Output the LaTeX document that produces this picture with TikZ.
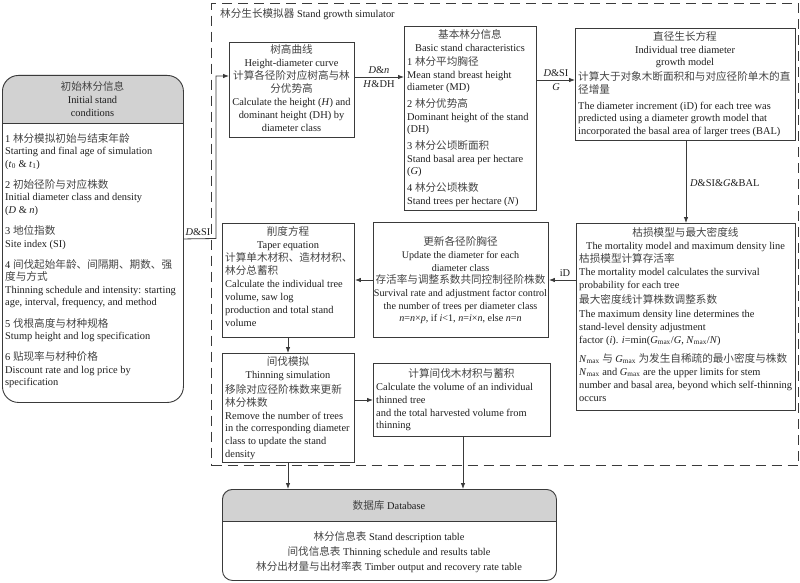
\documentclass[tikz,border=0pt]{standalone}
\usepackage{fontspec}
\setmainfont{Liberation Serif}
\newfontfamily\cjk[Scale=1.02]{Noto Sans CJK SC}
\usetikzlibrary{arrows.meta}
\definecolor{linec}{HTML}{3A3A3A}
\definecolor{txtc}{HTML}{1E1E1E}
\definecolor{cjkc}{HTML}{444444}
\definecolor{headc}{HTML}{D2D2D2}
\newcommand\zh[1]{{\cjk\color{cjkc}#1}}
\newcommand\fz[1]{\fontsize{10.4}{#1}\selectfont\lineskiplimit=-20pt\lineskip=0pt}
\tikzset{
  box/.style={draw=linec, line width=0.9pt, inner sep=0pt, anchor=north west},
  txt/.style={inner sep=0pt, text=txtc, font=\fz{12.6}},
  ctxt/.style={txt, align=center, anchor=north},
  ltxt/.style={txt, align=left, anchor=north west},
  arr/.style={draw=linec, line width=0.8pt, -{Latex[length=6pt,width=4.5pt]}},
  lab/.style={inner sep=1pt, text=txtc, font=\fz{12.6}},
  simframe/.style={draw=linec, line width=1.1pt, dash pattern=on 10pt off 6pt, inner sep=0pt, anchor=north west}
}
\begin{document}
\begin{tikzpicture}[x=1pt,y=-1pt]
\useasboundingbox (0,0) rectangle (800,583);

% simulator frame
\node[simframe, minimum width=587, minimum height=462] (sim) at (211,3) {};
\node[txt, anchor=west] (simt) at (220,14) {\zh{林分生长模拟器} Stand growth simulator};

% initial stand conditions
\begin{scope}
  \clip (2,75) rectangle (183,123);
  \fill[headc, rounded corners=16] (2,75) rectangle (183,402);
\end{scope}
\node[box, rounded corners=16, minimum width=181, minimum height=327] (init) at (2,75) {};
\draw[draw=linec, line width=0.9pt] (2,123) -- (183,123);
\node[ctxt, font=\fz{13}] (inith) at (92.5,81.5) {\zh{初始林分信息}\\Initial stand\\conditions};
\node[ltxt, font=\fz{12.2}] (initb) at (5,133.5) {1 \zh{林分模拟初始与结束年龄}\\
Starting and final age of simulation\\
(\textit{t}\textsubscript{0} \& \textit{t}\textsubscript{1})\\[9.5pt]
2 \zh{初始径阶与对应株数}\\
Initial diameter class and density\\
(\textit{D} \& \textit{n})\\[9.5pt]
3 \zh{地位指数}\\
Site index (SI)\\[9.5pt]
4 \zh{间伐起始年龄、间隔期、期数、强}\\
\zh{度与方式}\\
Thinning schedule and intensity: starting\\
age, interval, frequency, and method\\[9.5pt]
5 \zh{伐根高度与材种规格}\\
Stump height and log specification\\[9.5pt]
6 \zh{贴现率与材种价格}\\
Discount rate and log price by\\
specification};

% height-diameter curve
\node[box, minimum width=125, minimum height=95] (hd) at (229,42) {};
\node[ctxt, font=\fz{13}] (hdt) at (291.5,44.5) {\zh{树高曲线}\\Height-diameter curve\\\zh{计算各径阶对应树高与林}\\\zh{分优势高}\\Calculate the height (\textit{H}) and\\dominant height (DH) by\\diameter class};

% basic stand characteristics
\node[box, minimum width=132, minimum height=184] (basic) at (404,26) {};
\node[ctxt] (basich) at (470,29.5) {\zh{基本林分信息}\\Basic stand characteristics};
\node[ltxt, font=\fz{12.5}] (basicb) at (407,56.5) {1 \zh{林分平均胸径}\\
Mean stand breast height\\
diameter (MD)\\[4.5pt]
2 \zh{林分优势高}\\
Dominant height of the stand\\
(DH)\\[4.5pt]
3 \zh{林分公顷断面积}\\
Stand basal area per hectare\\
(\textit{G})\\[4.5pt]
4 \zh{林分公顷株数}\\
Stand trees per hectare (\textit{N})};

% diameter growth model
\node[box, minimum width=220, minimum height=112] (diam) at (575,28) {};
\node[ctxt] (diamh) at (685,31.5) {\zh{直径生长方程}\\Individual tree diameter\\growth model};
\node[ltxt] (diamb) at (578,71.5) {\zh{计算大于对象木断面积和与对应径阶单木的直}\\
\zh{径增量}\\[3.5pt]
The diameter increment (iD) for each tree was\\
predicted using a diameter growth model that\\
incorporated the basal area of larger trees (BAL)};

% mortality model
\node[box, minimum width=219, minimum height=187] (mort) at (576,223) {};
\node[ctxt] (morth) at (685.5,227.5) {\zh{枯损模型与最大密度线}\\The mortality model and maximum density line};
\node[ltxt, font=\fz{13.1}] (mortb) at (579,253.5) {\zh{枯损模型计算存活率}\\
The mortality model calculates the survival\\
probability for each tree\\[2pt]
\zh{最大密度线计算株数调整系数}\\
The maximum density line determines the\\
stand-level density adjustment\\
factor (\textit{i}). \textit{i}=min(\textit{G}\textsubscript{max}/\textit{G}, \textit{N}\textsubscript{max}/\textit{N})\\[6pt]
\textit{N}\textsubscript{max} \zh{与} \textit{G}\textsubscript{max} \zh{为发生自稀疏的最小密度与株数}\\
\textit{N}\textsubscript{max} and \textit{G}\textsubscript{max} are the upper limits for stem\\
number and basal area, beyond which self-thinning\\
occurs};

% update diameter
\node[box, minimum width=175, minimum height=115] (upd) at (373,222) {};
\node[ctxt, font={\fontsize{10.1}{12.7}\selectfont\lineskiplimit=-20pt}] (updt) at (460.5,236.5) {\zh{\fontsize{10.4}{12.7}\selectfont 更新各径阶胸径}\\Update the diameter for each\\diameter class\\\zh{\fontsize{10.4}{12.7}\selectfont 存活率与调整系数共同控制径阶株数}\\Survival rate and adjustment factor control\\the number of trees per diameter class\\\textit{n}=\textit{n}×\textit{p}, if \textit{i}<1, \textit{n}=\textit{i}×\textit{n}, else \textit{n}=\textit{n}};

% taper equation
\node[box, minimum width=132, minimum height=114] (taper) at (222,223) {};
\node[ctxt] (taperh) at (288,226.5) {\zh{削度方程}\\Taper equation};
\node[ltxt, font=\fz{12.9}] (taperb) at (225,252.5) {\zh{计算单木材积、造材材积、}\\
\zh{林分总蓄积}\\
Calculate the individual tree\\
volume, saw log\\
production and total stand\\
volume};

% thinning simulation
\node[box, minimum width=132, minimum height=109] (thin) at (222,353) {};
\node[ctxt] (thinh) at (288,356.5) {\zh{间伐模拟}\\Thinning simulation};
\node[ltxt, font=\fz{12.7}] (thinb) at (225,384.5) {\zh{移除对应径阶株数来更新}\\
\zh{林分株数}\\
Remove the number of trees\\
in the corresponding diameter\\
class to update the stand\\
density};

% thinned volume
\node[box, minimum width=177, minimum height=73] (calc) at (373,363) {};
\node[ctxt] (calch) at (461.5,368.5) {\zh{计算间伐木材积与蓄积}};
\node[ltxt, font=\fz{12.8}] (calcb) at (376,383) {Calculate the volume of an individual\\
thinned tree\\
and the total harvested volume from\\
thinning};

% database
\begin{scope}
  \clip (222,489) rectangle (556,521);
  \fill[headc, rounded corners=10] (222,489) rectangle (556,580);
\end{scope}
\node[box, rounded corners=10, minimum width=334, minimum height=91] (db) at (222,489) {};
\draw[draw=linec, line width=0.9pt] (222,521) -- (556,521);
\node[txt, anchor=center] (dbh) at (389,505) {\zh{数据库} Database};
\node[ctxt, font=\fz{15}] (dbb) at (389,531.5) {\zh{林分信息表} Stand description table\\\zh{间伐信息表} Thinning schedule and results table\\\zh{林分出材量与出材率表} Timber output and recovery rate table};

% connectors
\coordinate (jA) at (216,238.5);
\coordinate (jB) at (216,76);
\draw[arr] (init.east) -- (jA) -- (jB) -- (hd.west |- jB);
\node[lab, anchor=south] (l1) at (198,237) {\textit{D}\&SI};

\coordinate (yA) at (0,77);
\draw[arr] (hd.east |- yA) -- (basic.west |- yA);
\node[lab, anchor=south] (l2) at (379,75) {\textit{D}\&\textit{n}};
\node[lab, anchor=north] (l3) at (379,79) {\textit{H}\&DH};

\coordinate (yB) at (0,80);
\draw[arr] (basic.east |- yB) -- (diam.west |- yB);
\node[lab, anchor=south] (l4) at (556,78) {\textit{D}\&SI};
\node[lab, anchor=north] (l5) at (556,82) {\textit{G}};

\coordinate (xC) at (686,0);
\draw[arr] (diam.south -| xC) -- (mort.north -| xC);
\node[lab, anchor=west] (l6) at (689,183) {\textit{D}\&SI\&\textit{G}\&BAL};

\coordinate (yD) at (0,280);
\draw[arr] (mort.west |- yD) -- (upd.east |- yD);
\node[lab, anchor=south] (l7) at (565,278) {iD};
\draw[arr] (upd.west |- yD) -- (taper.east |- yD);

\coordinate (xE) at (288,0);
\draw[arr] (taper.south -| xE) -- (thin.north -| xE);

\coordinate (yF) at (0,400);
\draw[arr] (thin.east |- yF) -- (calc.west |- yF);

\draw[arr] (thin.south -| xE) -- (db.north -| xE);
\coordinate (xG) at (463,0);
\draw[arr] (calc.south -| xG) -- (db.north -| xG);
\end{tikzpicture}
\end{document}
